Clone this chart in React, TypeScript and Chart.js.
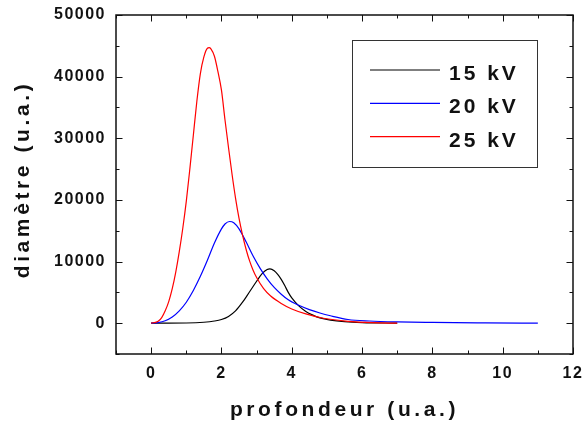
import React, { useEffect, useRef } from 'react';
import { Chart, registerables } from 'chart.js';
Chart.register(...registerables);

// ---- data ----
const seriesLabels = ['15 kV', '20 kV', '25 kV'];

const x15 = [0, 1.0, 1.5, 1.8, 2.0, 2.2, 2.4, 2.6, 2.8, 3.0, 3.15, 3.3, 3.38, 3.5, 3.6, 3.7, 3.8, 3.9, 4.0, 4.2, 4.4, 4.6, 4.8, 5.1, 5.5, 6.0, 7.0];
const y15 = [0, 30, 150, 350, 600, 1100, 2000, 3400, 5100, 6800, 8000, 8700, 8800, 8500, 7900, 7100, 6100, 5000, 4100, 2800, 1900, 1300, 850, 500, 250, 100, 0];

const x20 = [0, 0.2, 0.4, 0.6, 0.8, 1.0, 1.2, 1.4, 1.6, 1.8, 2.0, 2.1, 2.23, 2.35, 2.5, 2.7, 2.9, 3.1, 3.3, 3.5, 3.7, 3.9, 4.2, 4.5, 4.8, 5.1, 5.6, 6.2, 7.0, 8.0, 9.5, 11];
const y20 = [0, 100, 400, 1000, 2000, 3400, 5300, 7600, 10200, 13000, 15300, 16100, 16500, 16300, 15300, 13200, 10900, 8900, 7200, 5800, 4700, 3800, 2900, 2200, 1650, 1200, 600, 350, 200, 120, 50, 0];

const x25 = [0, 0.2, 0.3, 0.4, 0.5, 0.6, 0.7, 0.8, 0.9, 1.0, 1.1, 1.2, 1.3, 1.4, 1.5, 1.6, 1.65, 1.7, 1.8, 1.9, 2.0, 2.1, 2.2, 2.3, 2.4, 2.5, 2.6, 2.7, 2.8, 2.9, 3.0, 3.2, 3.4, 3.7, 4.0, 4.4, 4.9, 5.6, 6.3, 7.0];
const y25 = [0, 300, 900, 2000, 3500, 5600, 8300, 11600, 15400, 19800, 25000, 30500, 36000, 40500, 43200, 44600, 44700, 44500, 43300, 40800, 37800, 33000, 28500, 24200, 20300, 17000, 14300, 12000, 10100, 8600, 7400, 5600, 4400, 3200, 2300, 1500, 800, 300, 80, 0];

const xTickValues = [0, 2, 4, 6, 8, 10, 12];
const yTickValues = [0, 10000, 20000, 30000, 40000, 50000];

const xAxisTitle = 'profondeur (u.a.)';
const yAxisTitle = 'diamètre (u.a.)';

const toPoints = (xs: number[], ys: number[]) => xs.map((x, i) => ({ x, y: ys[i] }));

const FONT = '"Liberation Sans", Arial, sans-serif';

const patchSpacing = (scale: any, name: string, spacing: string, dy = 0) => {
  const key = '__patched_' + name;
  if (scale[key]) return;
  const orig = scale[name].bind(scale);
  scale[name] = (...args: any[]) => {
    const ctx = scale.ctx;
    ctx.save();
    ctx.letterSpacing = spacing;
    if (dy) ctx.translate(0, dy);
    orig(...args);
    ctx.restore();
  };
  scale[key] = true;
};

const framePlugin = {
  id: 'frameTicks',
  beforeDraw(chart: any) {
    const { x, y } = chart.scales;
    patchSpacing(x, 'drawLabels', '1.5px');
    patchSpacing(y, 'drawLabels', '1.5px');
    patchSpacing(x, 'drawTitle', '3.6px');
    patchSpacing(y, 'drawTitle', '3.6px', -5);
  },
  afterDatasetsDraw(chart: any) {
    const { ctx, chartArea: a, scales } = chart;
    const xs = scales.x;
    const ys = scales.y;
    ctx.save();
    ctx.strokeStyle = '#111';
    ctx.lineWidth = 1;
    const seg = (x1: number, y1: number, x2: number, y2: number) => {
      ctx.beginPath();
      ctx.moveTo(x1, y1);
      ctx.lineTo(x2, y2);
      ctx.stroke();
    };
    for (let v = Math.ceil(xs.min); v <= xs.max; v += 1) {
      const px = Math.round(xs.getPixelForValue(v)) + 0.5;
      const len = v % 2 === 0 ? 6.5 : 3.5;
      seg(px, a.bottom, px, a.bottom - len);
      seg(px, a.top, px, a.top + len);
    }
    for (let v = ys.min; v <= ys.max; v += 5000) {
      const py = Math.round(ys.getPixelForValue(v)) + 0.5;
      const len = v % 10000 === 0 ? 6.5 : 3.5;
      seg(a.left, py, a.left + len, py);
      seg(a.right, py, a.right - len, py);
    }
    ctx.lineWidth = 1.5;
    ctx.strokeRect(a.left, a.top, a.right - a.left, a.bottom - a.top);
    ctx.restore();
  },
  afterDraw(chart: any) {
    const { ctx, chartArea: a } = chart;
    const left = a.right - 221;
    const top = a.top + 25;
    const w = 185;
    const h = 127;
    ctx.save();
    ctx.fillStyle = '#fff';
    ctx.fillRect(left, top, w, h);
    ctx.strokeStyle = '#333';
    ctx.lineWidth = 1;
    ctx.strokeRect(left + 0.5, top + 0.5, w, h);
    ctx.font = `bold 21px ${FONT}`;
    ctx.letterSpacing = '3px';
    ctx.textBaseline = 'alphabetic';
    ctx.textAlign = 'left';
    chart.data.datasets.forEach((ds: any, i: number) => {
      const yy = top + 30 + i * 33.3;
      ctx.strokeStyle = ds.borderColor;
      ctx.lineWidth = 1.2;
      ctx.beginPath();
      ctx.moveTo(left + 18, yy);
      ctx.lineTo(left + 88, yy);
      ctx.stroke();
      ctx.fillStyle = '#111';
      ctx.fillText(ds.label, left + 97, yy + 10);
    });
    ctx.restore();
  },
};

const zeroPad = (s: any) => {
  s.paddingLeft = 0;
  s.paddingRight = 0;
  s.paddingTop = 0;
  s.paddingBottom = 0;
};

export default function App() {
  const ref = useRef<HTMLCanvasElement | null>(null);
  useEffect(() => {
    if (!ref.current) return;
    const tickFont = { family: FONT, size: 16, weight: 'bold' as const };
    const titleFont = { family: FONT, size: 21, weight: 'bold' as const };
    const chart = new Chart(ref.current, {
      type: 'line',
      data: {
        datasets: [
          { label: seriesLabels[0], data: toPoints(x15, y15), borderColor: '#000000', order: 2 },
          { label: seriesLabels[1], data: toPoints(x20, y20), borderColor: '#0000ff', order: 1 },
          { label: seriesLabels[2], data: toPoints(x25, y25), borderColor: '#ff0000', order: 0 },
        ],
      },
      options: {
        responsive: false,
        animation: false,
        devicePixelRatio: 1,
        layout: { padding: { top: 15, right: 11, left: 0, bottom: 0 } },
        elements: {
          point: { radius: 0 },
          line: { borderWidth: 1.2, cubicInterpolationMode: 'monotone', fill: false },
        },
        plugins: { legend: { display: false }, tooltip: { enabled: false } },
        scales: {
          x: {
            type: 'linear',
            min: -1,
            max: 12,
            afterFit: (s: any) => { s.height = 73; zeroPad(s); },
            afterBuildTicks: (s: any) => { s.ticks = xTickValues.map((v) => ({ value: v })); },
            ticks: { autoSkip: false, font: tickFont, color: '#111', padding: 10, maxRotation: 0, minRotation: 0, callback: (v: any) => String(v) },
            grid: { display: false, drawTicks: false },
            border: { display: false },
            title: { display: true, text: xAxisTitle, font: titleFont, color: '#111', padding: { top: 0, bottom: 3.7 } },
          },
          y: {
            type: 'linear',
            min: -5000,
            max: 50000,
            afterFit: (s: any) => { s.width = 116; zeroPad(s); },
            afterBuildTicks: (s: any) => { s.ticks = yTickValues.map((v) => ({ value: v })); },
            ticks: { autoSkip: false, font: tickFont, color: '#111', padding: 10, callback: (v: any) => String(v) },
            grid: { display: false, drawTicks: false },
            border: { display: false },
            title: { display: true, text: yAxisTitle, font: titleFont, color: '#111', padding: { top: 10.6, bottom: 0 } },
          },
        },
      } as any,
      plugins: [framePlugin],
    });
    return () => chart.destroy();
  }, []);
  return (
    <div style={{ position: 'fixed', left: 0, top: 0, width: 584, height: 427, background: '#fff' }}>
      <canvas ref={ref} width={584} height={427} style={{ display: 'block', width: 584, height: 427 }} />
    </div>
  );
}
